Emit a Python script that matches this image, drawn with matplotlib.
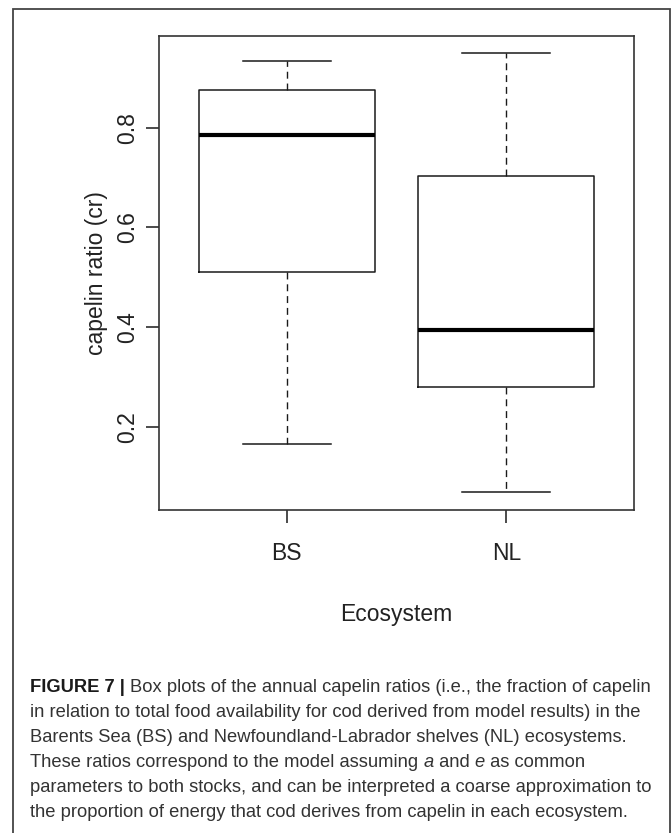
import matplotlib
matplotlib.use("Agg")
import matplotlib.pyplot as plt
from matplotlib.patches import Rectangle

# ---- data ----
categories = ["BS", "NL"]
whisker_low = [0.165, 0.069]
q1 = [0.511, 0.279]
median = [0.786, 0.394]
q3 = [0.876, 0.702]
whisker_high = [0.934, 0.949]
yticks = [0.2, 0.4, 0.6, 0.8]
ylabel = "capelin ratio (cr)"
xlabel = "Ecosystem"

caption_lines = [
    [("FIGURE 7 | ", "bold"), ("Box plots of the annual capelin ratios (i.e., the fraction of capelin", "normal")],
    [("in relation to total food availability for cod derived from model results) in the", "normal")],
    [("Barents Sea (BS) and Newfoundland-Labrador shelves (NL) ecosystems.", "normal")],
    [("These ratios correspond to the model assuming ", "normal"), ("a", "italic"), (" and ", "normal"),
     ("e", "italic"), (" as common", "normal")],
    [("parameters to both stocks, and can be interpreted a coarse approximation to", "normal")],
    [("the proportion of energy that cod derives from capelin in each ecosystem.", "normal")],
]

W, H = 672, 833
plt.rcParams['font.family'] = ['Liberation Sans', 'DejaVu Sans']
fig = plt.figure(figsize=(W / 100, H / 100), dpi=100)
fig.patch.set_facecolor("white")

left, right, top, bottom = 159, 634, 35.7, 509.7
ax = fig.add_axes([left / W, 1 - bottom / H, (right - left) / W, (bottom - top) / H])

stats = []
for i, c in enumerate(categories):
    stats.append(dict(label=c, med=median[i], q1=q1[i], q3=q3[i],
                      whislo=whisker_low[i], whishi=whisker_high[i], fliers=[]))

lc = "#1a1a1a"
ax.bxp(stats, positions=[1, 2], widths=0.8, capwidths=0.4, showfliers=False,
       boxprops=dict(color=lc, linewidth=1.1),
       medianprops=dict(color="black", linewidth=3.0, solid_capstyle="butt"),
       whiskerprops=dict(color=lc, linewidth=1.0, linestyle=(0, (5, 3.5))),
       capprops=dict(color=lc, linewidth=1.1))

# R-style 4% axis extension
ymin, ymax = min(whisker_low), max(whisker_high)
ext = 0.04 * (ymax - ymin)
ax.set_ylim(ymin - ext, ymax + ext)
ax.set_xlim(0.5 - 0.04 * 2, 2.5 + 0.04 * 2)

lab_size = 16.5
txt_color = "#222222"
ax.set_yticks(yticks)
ax.set_yticklabels([f"{t:.1f}" for t in yticks], rotation=90, va="center", fontsize=lab_size, color=txt_color)
ax.set_xticks([1, 2])
ax.set_xticklabels(categories, fontsize=lab_size, color=txt_color)
ax.tick_params(axis="both", direction="out", length=9.4, width=1.1, color=lc)
ax.tick_params(axis="y", pad=5)
ax.tick_params(axis="x", pad=14)
for s in ax.spines.values():
    s.set_linewidth(1.2)
    s.set_color("#333333")

ax.set_ylabel(ylabel, fontsize=lab_size, color=txt_color, labelpad=6)
fig.text((left + right) / 2 / W, 1 - 614 / H, xlabel, ha="center", va="center", fontsize=16.5, color=txt_color)

# outer frame
fig.patches.append(Rectangle((13 / W, -0.01), (670 - 13) / W, 1.01 - 8.7 / H, transform=fig.transFigure,
                             fill=False, edgecolor="#444444", linewidth=1.3))

# caption
fig.canvas.draw()
renderer = fig.canvas.get_renderer()
cap_size = 13.25
cap_color = "#333333"


def seg_width(txt, style):
    kw = dict(fontsize=cap_size)
    if style == "bold":
        kw["fontweight"] = "bold"
    if style == "italic":
        kw["fontstyle"] = "italic"
    t1 = fig.text(0, 0, "|" + txt + "|", **kw)
    t2 = fig.text(0, 0, "||", **kw)
    w = t1.get_window_extent(renderer).width - t2.get_window_extent(renderer).width
    t1.remove(); t2.remove()
    return w


x0 = 30
base0 = 692
pitch = 25
for li, segs in enumerate(caption_lines):
    x = x0
    yb = base0 + li * pitch
    for txt, style in segs:
        kw = dict(fontsize=cap_size, color=cap_color, va="baseline", ha="left")
        if style == "bold":
            kw["fontweight"] = "bold"
            kw["color"] = "#1a1a1a"
        if style == "italic":
            kw["fontstyle"] = "italic"
        fig.text(x / W, 1 - yb / H, txt, **kw)
        x += seg_width(txt, style)

fig.savefig("out.png", dpi=100, facecolor="white")
